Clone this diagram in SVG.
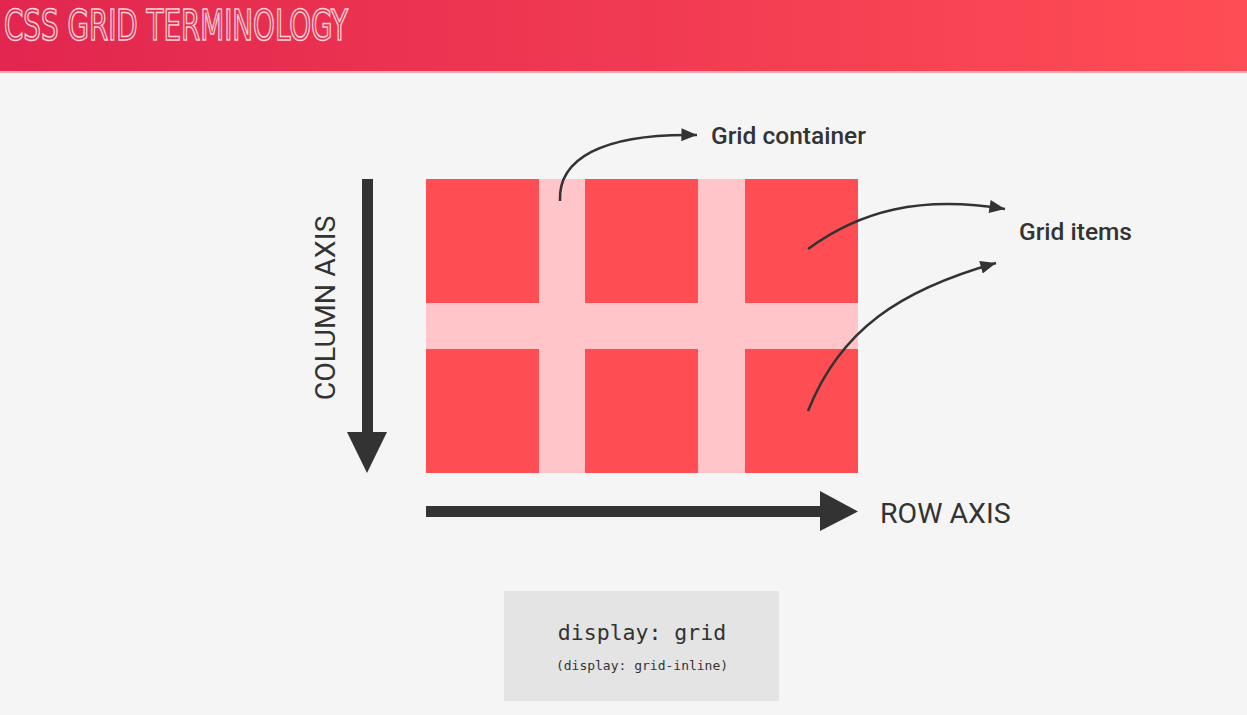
<svg xmlns="http://www.w3.org/2000/svg" width="1247" height="715" viewBox="0 0 1247 715">
<defs>
<linearGradient id="hdr" x1="0" y1="0" x2="1" y2="0">
<stop offset="0" stop-color="#e2264f"/>
<stop offset="1" stop-color="#ff4d55"/>
</linearGradient>
<marker id="ah2" viewBox="0 0 12 10" refX="12" refY="5" markerWidth="16" markerHeight="13" markerUnits="userSpaceOnUse" orient="auto">
<path d="M0,0 L12,5 L0,10 z" fill="#333"/>
</marker>
</defs>
<style>
.lbl{font-family:Roboto,"Liberation Sans",sans-serif;fill:#333}
.cell{fill:#fe4e54}
.conn{fill:none;stroke:#333;stroke-width:2.5}
.mono{font-family:"DejaVu Sans Mono","Liberation Mono",monospace;fill:#333;text-anchor:middle}
</style>
<rect width="1247" height="715" fill="#f5f5f5"/>
<g id="header">
<rect width="1247" height="71" fill="url(#hdr)"/>
<rect y="71" width="1247" height="2" fill="#f6a9b3"/>
<text x="4" y="40" font-family="'DejaVu Sans Condensed','Liberation Sans Narrow',sans-serif" font-stretch="condensed" font-size="42" fill="none" stroke="#fbd0d6" stroke-width="1.6" textLength="344" lengthAdjust="spacingAndGlyphs">CSS GRID TERMINOLOGY</text>
</g>
<g id="grid">
<rect x="426" y="179" width="432" height="294" fill="#ffc5c8"/>
<rect class="cell" x="426" y="179" width="113" height="124"/>
<rect class="cell" x="585" y="179" width="113" height="124"/>
<rect class="cell" x="745" y="179" width="113" height="124"/>
<rect class="cell" x="426" y="349" width="113" height="124"/>
<rect class="cell" x="585" y="349" width="113" height="124"/>
<rect class="cell" x="745" y="349" width="113" height="124"/>
</g>
<g id="column-axis">
<rect x="362" y="179" width="11" height="255" fill="#333"/>
<path d="M347,432 L387,432 L367,473 z" fill="#333"/>
<text class="lbl" transform="translate(335,308) rotate(-90)" text-anchor="middle" font-size="28.5">COLUMN AXIS</text>
</g>
<g id="row-axis">
<rect x="426" y="506" width="396" height="11" fill="#333"/>
<path d="M820,491 L858,511.5 L820,531 z" fill="#333"/>
<text class="lbl" x="880" y="523" font-size="28.5">ROW AXIS</text>
</g>
<g id="grid-container-label">
<text class="lbl" x="711" y="144" font-size="24.5" font-weight="500">Grid container</text>
</g>
<g id="grid-items-label">
<text class="lbl" x="1019" y="240" font-size="24.5" font-weight="500">Grid items</text>
</g>
<g id="connectors">
<path class="conn" d="M560,201 C558,160 600,133 697,135" marker-end="url(#ah2)"/>
<path class="conn" d="M808,249 C860,211 920,195 1005,209" marker-end="url(#ah2)"/>
<path class="conn" d="M808,411 C840,330 900,290 996,263" marker-end="url(#ah2)"/>
</g>
<g id="display-box">
<rect x="504" y="591" width="275" height="110" fill="#e4e4e4"/>
<text class="mono" x="642" y="640" font-size="21.5">display: grid</text>
<text class="mono" x="642" y="670" font-size="13">(display: grid-inline)</text>
</g>
</svg>
